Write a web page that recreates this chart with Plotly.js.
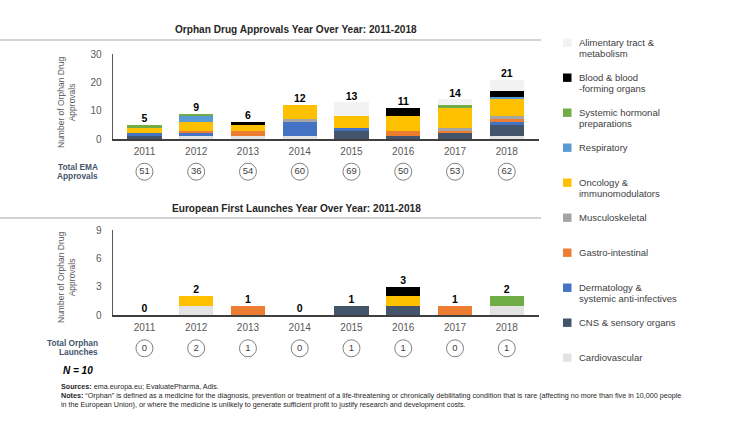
<!DOCTYPE html>
<html>
<head>
<meta charset="utf-8">
<script src="https://cdn.plot.ly/plotly-3.0.1.min.js"></script>
<style>html,body{margin:0;padding:0;background:#fff;}#chart{width:750px;height:422px;}</style>
</head>
<body>
<div id="chart"></div>
<script>
// ---------- DATA ----------
const years = ["2011","2012","2013","2014","2015","2016","2017","2018"];

// Stack order: bottom -> top
const categoryNames = ["Cardiovascular","CNS & sensory organs","Dermatology & systemic anti-infectives","Gastro-intestinal","Musculoskeletal","Oncology & immunomodulators","Respiratory","Systemic hormonal preparations","Blood & blood -forming organs","Alimentary tract & metabolism"];
const legendLabels = ["Cardiovascular","CNS & sensory organs","Dermatology &<br>systemic anti-infectives","Gastro-intestinal","Musculoskeletal","Oncology &<br>immunomodulators","Respiratory","Systemic hormonal<br>preparations","Blood & blood<br>-forming organs","Alimentary tract &<br>metabolism"];
const categoryColors = ["#e4e3e3","#44546a","#4472c4","#ed7d31","#a5a5a5","#ffc000","#5b9bd5","#70ad47","#000000","#f2f2f2"];

// Orphan drug approvals per year, by category (same order as categoryNames)
const apprCardio     = [0,1,1,1,0,0,0,1];
const apprCNS        = [1,0,0,0,3,1,2,4];
const apprDerm       = [1,1,0,5,1,0,0,1];
const apprGastro     = [0,1,2,0,0,2,1,1];
const apprMusculo    = [0,0,0,1,0,0,1,1];
const apprOnc        = [2,3,2,5,4,5,7,6];
const apprResp       = [0,2,0,0,0,0,0,1];
const apprHormonal   = [1,1,0,0,0,0,1,0];
const apprBlood      = [0,0,1,0,0,3,0,2];
const apprAlimentary = [0,0,0,0,5,0,2,4];
const approvalLabels = [5,9,6,12,13,11,14,21];
const totalEMAApprovals = [51,36,54,60,69,50,53,62];

// European first launches per year, by category
const launchCardio     = [0,1,0,0,0,0,0,1];
const launchCNS        = [0,0,0,0,1,1,0,0];
const launchDerm       = [0,0,0,0,0,0,0,0];
const launchGastro     = [0,0,1,0,0,0,1,0];
const launchMusculo    = [0,0,0,0,0,0,0,0];
const launchOnc        = [0,1,0,0,0,1,0,0];
const launchResp       = [0,0,0,0,0,0,0,0];
const launchHormonal   = [0,0,0,0,0,0,0,1];
const launchBlood      = [0,0,0,0,0,1,0,0];
const launchAlimentary = [0,0,0,0,0,0,0,0];
const launchLabels = [0,2,1,0,1,3,1,2];
const totalOrphanLaunches = [0,2,1,0,1,1,0,1];

const apprSeries = [apprCardio,apprCNS,apprDerm,apprGastro,apprMusculo,apprOnc,apprResp,apprHormonal,apprBlood,apprAlimentary];
const launchSeries = [launchCardio,launchCNS,launchDerm,launchGastro,launchMusculo,launchOnc,launchResp,launchHormonal,launchBlood,launchAlimentary];

// ---------- HELPERS ----------
const W = 750, H = 422;
const px = x => x / W;
const py = y => 1 - y / H;
const FONT = "Liberation Sans, Arial, sans-serif";
const sumAt = (series, i) => series.reduce((s, a) => s + a[i], 0);

const traces = [];
categoryNames.forEach((name, k) => {
  traces.push({type:"bar", x:years, y:apprSeries[k], name:name, xaxis:"x", yaxis:"y",
    marker:{color:categoryColors[k], line:{width:0}}, showlegend:false, hoverinfo:"name+y"});
});
categoryNames.forEach((name, k) => {
  traces.push({type:"bar", x:years, y:launchSeries[k], name:name, xaxis:"x2", yaxis:"y2",
    marker:{color:categoryColors[k], line:{width:0}}, showlegend:false, hoverinfo:"name+y"});
});
// value labels above bars
traces.push({type:"scatter", mode:"text", x:years, y:years.map((_, i) => sumAt(apprSeries, i)),
  text:approvalLabels.map(String), textposition:"top center", xaxis:"x", yaxis:"y",
  textfont:{family:FONT, size:10.5, color:"#000"}, texttemplate:"<b>%{text}</b>", cliponaxis:false, showlegend:false, hoverinfo:"skip"});
traces.push({type:"scatter", mode:"text", x:years, y:years.map((_, i) => sumAt(launchSeries, i)),
  text:launchLabels.map(String), textposition:"top center", xaxis:"x2", yaxis:"y2",
  textfont:{family:FONT, size:10.5, color:"#000"}, texttemplate:"<b>%{text}</b>", cliponaxis:false, showlegend:false, hoverinfo:"skip"});
// circled totals
traces.push({type:"scatter", mode:"markers+text", x:years, y:years.map(() => 0.5), xaxis:"x", yaxis:"y3",
  text:totalEMAApprovals.map(String), textposition:"middle center",
  textfont:{family:FONT, size:9.5, color:"#404040"},
  marker:{symbol:"circle-open", size:17, color:"#808080", line:{width:1}}, cliponaxis:false, showlegend:false, hoverinfo:"skip"});
traces.push({type:"scatter", mode:"markers+text", x:years, y:years.map(() => 0.5), xaxis:"x2", yaxis:"y4",
  text:totalOrphanLaunches.map(String), textposition:"middle center",
  textfont:{family:FONT, size:9.5, color:"#404040"},
  marker:{symbol:"circle-open", size:17, color:"#808080", line:{width:1}}, cliponaxis:false, showlegend:false, hoverinfo:"skip"});

const xDom = [px(112.5), px(538.7)];
const axisCommonX = {type:"category", showgrid:false, zeroline:false, showline:true, linecolor:"#3f3f3f", linewidth:1.5,
  ticks:"", tickfont:{family:FONT, size:10, color:"#595959"}, ticklabelstandoff:2, fixedrange:true};
const axisCommonY = {showgrid:false, zeroline:false, showline:true, linecolor:"#595959", linewidth:1,
  ticks:"", tickfont:{family:FONT, size:10, color:"#595959"}, ticklabelstandoff:8, fixedrange:true};

const annotations = [];
const shapes = [];
function addText(x, y, text, size, opts) {
  annotations.push(Object.assign({xref:"paper", yref:"paper", x:px(x), y:py(y), text:text, showarrow:false,
    xanchor:"center", yanchor:"middle", font:{family:FONT, size:size, color:"#262626"}}, opts || {}));
}
// chart titles + rules
addText(296, 30, "<b>Orphan Drug Approvals Year Over Year: 2011-2018</b>", 10.1);
addText(296, 208, "<b>European First Launches Year Over Year: 2011-2018</b>", 10.1);
shapes.push({type:"line", xref:"paper", yref:"paper", x0:0, x1:px(541), y0:py(40), y1:py(40), line:{color:"#a6a6a6", width:1}});
shapes.push({type:"line", xref:"paper", yref:"paper", x0:0, x1:px(541), y0:py(218), y1:py(218), line:{color:"#a6a6a6", width:1}});
// y titles
addText(66, 103, "Number of Orphan Drug<br>Approvals", 8.5, {textangle:-90, font:{family:FONT, size:8.5, color:"#595959"}});
addText(66, 278, "Number of Orphan Drug<br>Approvals", 8.5, {textangle:-90, font:{family:FONT, size:8.5, color:"#595959"}});
// row labels
addText(100, 166.5, "<b>Total EMA</b>", 8.3, {xanchor:"right", font:{family:FONT, size:8.3, color:"#44546a"}});
addText(100, 176, "<b>Approvals</b>", 8.3, {xanchor:"right", font:{family:FONT, size:8.3, color:"#44546a"}});
addText(100, 342.5, "<b>Total Orphan</b>", 8.3, {xanchor:"right", font:{family:FONT, size:8.3, color:"#44546a"}});
addText(100, 352, "<b>Launches</b>", 8.3, {xanchor:"right", font:{family:FONT, size:8.3, color:"#44546a"}});
addText(61, 370.5, "<b><i>N = 10</i></b>", 10, {xanchor:"left", font:{family:FONT, size:10, color:"#000"}});
// sources / notes
addText(59, 386, "<b>Sources:</b> ema.europa.eu; EvaluatePharma, Adis.", 7.2, {xanchor:"left"});
addText(59, 395, "<b>Notes:</b> “Orphan” is defined as a medicine for the diagnosis, prevention or treatment of a life-threatening or chronically debilitating condition that is rare (affecting no more than five in 10,000 people", 7.2, {xanchor:"left"});
addText(59, 404, "in the European Union), or where the medicine is unlikely to generate sufficient profit to justify research and development costs.", 7.2, {xanchor:"left"});

// manual legend (top to bottom = reverse stack order)
for (let j = 0; j < categoryNames.length; j++) {
  const k = categoryNames.length - 1 - j;
  const yc = 42.7 + j * 35;
  shapes.push({type:"rect", xref:"paper", yref:"paper", x0:px(563), x1:px(571.5), y0:py(yc + 4.2), y1:py(yc - 4.2),
    fillcolor:categoryColors[k], line:{width:0}});
  legendLabels[k].split("<br>").forEach((line, li) => {
    addText(577, yc + li * 10.8, line, 9.5, {xanchor:"left", font:{family:FONT, size:9.5, color:"#404040"}});
  });
}

const layout = {
  width:W, height:H, margin:{l:0, r:0, t:0, b:0}, paper_bgcolor:"#fff", plot_bgcolor:"rgba(0,0,0,0)",
  barmode:"stack", bargap:0.34, showlegend:false, font:{family:FONT},
  xaxis: Object.assign({domain:xDom, anchor:"y"}, axisCommonX),
  yaxis: Object.assign({domain:[py(139), py(54)], range:[0,30], tickvals:[0,10,20,30], anchor:"x"}, axisCommonY),
  xaxis2: Object.assign({domain:xDom, anchor:"y2"}, axisCommonX),
  yaxis2: Object.assign({domain:[py(315), py(230)], range:[0,9], tickvals:[0,3,6,9], anchor:"x2"}, axisCommonY),
  yaxis3: {domain:[py(181.7), py(161.7)], range:[0,1], visible:false, anchor:"x", fixedrange:true},
  yaxis4: {domain:[py(358.3), py(338.3)], range:[0,1], visible:false, anchor:"x2", fixedrange:true},
  annotations: annotations, shapes: shapes
};
Plotly.newPlot("chart", traces, layout, {displayModeBar:false, staticPlot:true});
</script>
</body>
</html>
